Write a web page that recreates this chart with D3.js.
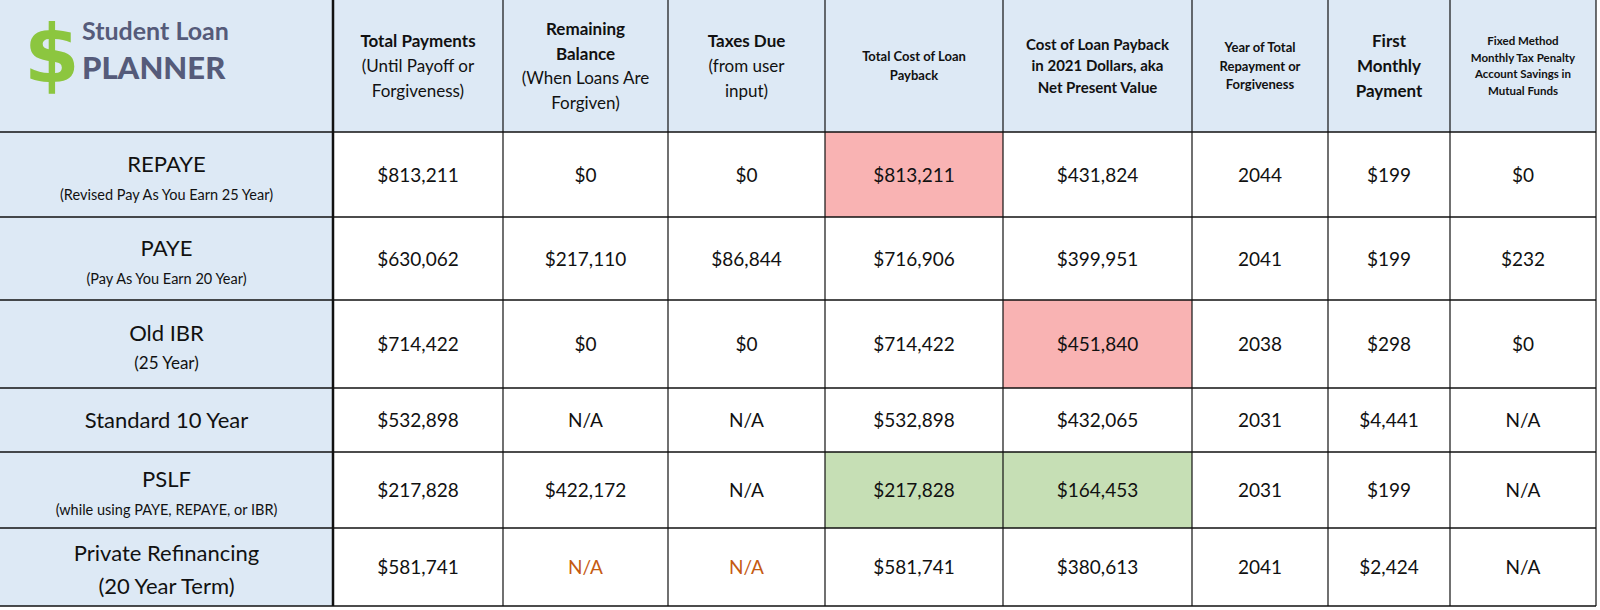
<!DOCTYPE html>
<html><head><meta charset="utf-8">
<script src="https://cdn.jsdelivr.net/npm/d3@7"></script>
<style>body{margin:0;background:#fff}svg{display:block;font-family:Lato,"Open Sans",sans-serif}</style>
</head><body><svg id="c" width="1600" height="610"></svg>
<script>
const headers = [
  [{t:"Total Payments",b:1,s:17},{t:"(Until Payoff or",s:17},{t:"Forgiveness)",s:17}],
  [{t:"Remaining",b:1,s:17},{t:"Balance",b:1,s:17},{t:"(When Loans Are",s:17},{t:"Forgiven)",s:17}],
  [{t:"Taxes Due",b:1,s:17},{t:"(from user",s:17},{t:"input)",s:17}],
  [{t:"Total Cost of Loan",b:1,s:13},{t:"Payback",b:1,s:13}],
  [{t:"Cost of Loan Payback",b:1,s:15},{t:"in 2021 Dollars, aka",b:1,s:15},{t:"Net Present Value",b:1,s:15}],
  [{t:"Year of Total",b:1,s:13},{t:"Repayment or",b:1,s:13},{t:"Forgiveness",b:1,s:13}],
  [{t:"First",b:1,s:17},{t:"Monthly",b:1,s:17},{t:"Payment",b:1,s:17}],
  [{t:"Fixed Method",b:1,s:11.5},{t:"Monthly Tax Penalty",b:1,s:11.5},{t:"Account Savings in",b:1,s:11.5},{t:"Mutual Funds",b:1,s:11.5}]
];
const plans = ["REPAYE","PAYE","Old IBR","Standard 10 Year","PSLF","Private Refinancing"];
const planNotes = ["(Revised Pay As You Earn 25 Year)","(Pay As You Earn 20 Year)","(25 Year)","","(while using PAYE, REPAYE, or IBR)","(20 Year Term)"];
const totalPayments = ["$813,211","$630,062","$714,422","$532,898","$217,828","$581,741"];
const remainingBalance = ["$0","$217,110","$0","N/A","$422,172","N/A"];
const taxesDue = ["$0","$86,844","$0","N/A","N/A","N/A"];
const totalCost = ["$813,211","$716,906","$714,422","$532,898","$217,828","$581,741"];
const npv = ["$431,824","$399,951","$451,840","$432,065","$164,453","$380,613"];
const payoffYear = ["2044","2041","2038","2031","2031","2041"];
const firstPayment = ["$199","$199","$298","$4,441","$199","$2,424"];
const taxSavings = ["$0","$232","$0","N/A","N/A","N/A"];
const columns = [totalPayments,remainingBalance,taxesDue,totalCost,npv,payoffYear,firstPayment,taxSavings];
const highlightRed = [[0,3],[2,4]];
const highlightGreen = [[4,3],[4,4]];
const orangeCells = [[5,1],[5,2]];

const svg = d3.select("#c");
const colEdges = [0,333,503,668,825,1003,1192,1328,1450,1596];
const rowEdges = [0,132,217,300,388,452,528,606];
const x0 = i=>colEdges[i], x1 = i=>colEdges[i+1];
const y0 = i=>rowEdges[i], y1 = i=>rowEdges[i+1];
const blue="#dde9f5", red="#f9b3b3", green="#c6dfb5", orange="#c55a11";
const has=(arr,r,c)=>arr.some(d=>d[0]===r&&d[1]===c);

svg.append("rect").attr("x",0).attr("y",0).attr("width",x1(8)).attr("height",y1(0)).attr("fill",blue);
svg.append("rect").attr("x",0).attr("y",y0(1)).attr("width",x1(0)).attr("height",y1(6)-y0(1)).attr("fill",blue);
plans.forEach((p,r)=>{
  columns.forEach((col,c)=>{
    const fill = has(highlightRed,r,c)?red:has(highlightGreen,r,c)?green:"#fff";
    svg.append("rect").attr("x",x0(c+1)).attr("y",y0(r+1)).attr("width",x1(c+1)-x0(c+1)).attr("height",y1(r+1)-y0(r+1)).attr("fill",fill);
    svg.append("text").attr("x",(x0(c+1)+x1(c+1))/2).attr("y",(y0(r+1)+y1(r+1))/2+7)
      .attr("text-anchor","middle").attr("font-size",19).attr("fill",has(orangeCells,r,c)?orange:"#111").text(col[r]);
  });
  const cx=x1(0)/2, cy=(y0(r+1)+y1(r+1))/2;
  if(r===3){
    svg.append("text").attr("x",cx).attr("y",cy+8).attr("text-anchor","middle").attr("font-size",22).attr("fill","#111").text(p);
  } else if(r===5){
    svg.append("text").attr("x",cx).attr("y",cy-6).attr("text-anchor","middle").attr("font-size",22).attr("fill","#111").text(p);
    svg.append("text").attr("x",cx).attr("y",cy+27).attr("text-anchor","middle").attr("font-size",22).attr("fill","#111").text(planNotes[r]);
  } else {
    svg.append("text").attr("x",cx).attr("y",cy-3).attr("text-anchor","middle").attr("font-size",22).attr("fill","#111").text(p);
    svg.append("text").attr("x",cx).attr("y",cy+25).attr("text-anchor","middle").attr("font-size",r===2?17:14.5).attr("fill","#111").text(planNotes[r]);
  }
});
headers.forEach((lines,c)=>{
  const lh = lines[0].s*1.45, cx=(x0(c+1)+x1(c+1))/2;
  const top = y1(0)/2 - lh*(lines.length-1)/2;
  lines.forEach((l,i)=>svg.append("text").attr("x",cx).attr("y",top+i*lh+l.s*0.35)
    .attr("text-anchor","middle").attr("font-size",l.s).attr("font-weight",l.b?700:400).attr("fill","#111").text(l.t));
});
// logo
svg.append("text").attr("x",24).attr("y",82).attr("font-size",80).attr("font-weight",700).attr("fill","#8cc63f").attr("font-family","'DejaVu Sans',sans-serif").text("$");
svg.append("text").attr("x",82).attr("y",40).attr("font-size",25).attr("font-weight",700).attr("fill","#555b7a").text("Student Loan");
svg.append("text").attr("x",82).attr("y",79).attr("font-size",31).attr("font-weight",900).attr("fill","#555b7a").text("PLANNER");
const g=svg.append("g").attr("stroke","#111");
colEdges.slice(1).forEach((x,i)=>g.append("line").attr("x1",x).attr("x2",x).attr("y1",0).attr("y2",606).attr("stroke-width",i===0?2.5:1.2));
rowEdges.slice(1).forEach(y=>g.append("line").attr("x1",0).attr("x2",1596).attr("y1",y).attr("y2",y).attr("stroke-width",1.5));
</script></body></html>
